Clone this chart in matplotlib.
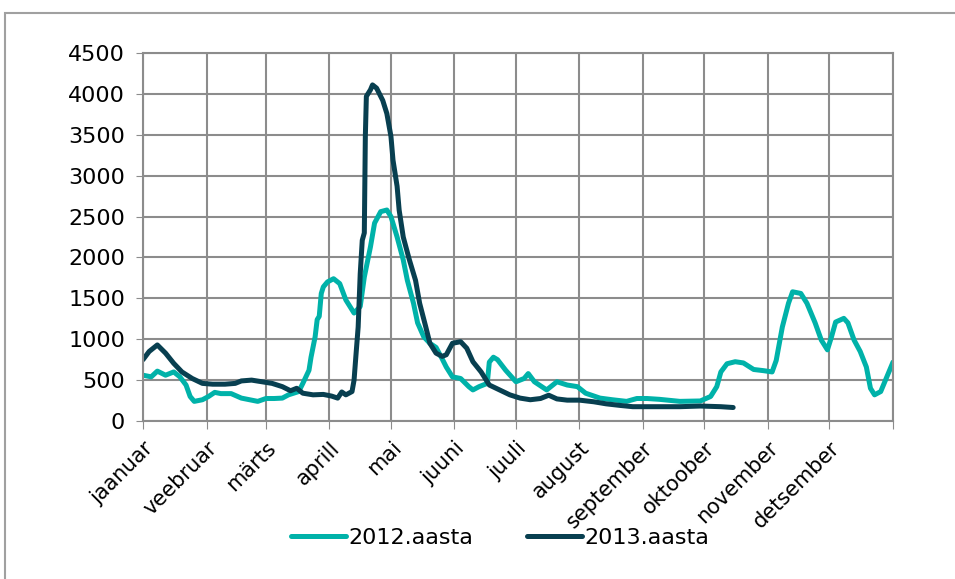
import matplotlib
matplotlib.use('Agg')
import matplotlib.pyplot as plt
from matplotlib.patches import Rectangle

plt.rcParams['font.family'] = ['DejaVu Sans']

# kuude nimed ja nende alguspäevad (liigaasta)
kuud = ['jaanuar', 'veebruar', 'märts', 'aprill', 'mai', 'juuni', 'juuli',
        'august', 'september', 'oktoober', 'november', 'detsember']
kuu_algus = [0, 31, 60, 91, 121, 152, 182, 213, 244, 274, 305, 335]
aasta_lopp = 366

# 2012 - päev aastas ja väärtus
paev_2012 = [0, 4, 7, 11, 15, 18, 21, 23, 25, 29, 32, 35, 38, 43, 48, 52, 56, 60,
             64, 68, 71, 76, 78, 81, 82, 84, 85, 86, 87, 88, 90, 93, 96, 99, 103,
             106, 108, 111, 113, 116, 119, 121, 124, 127, 129, 132, 134, 137, 140,
             143, 146, 148, 151, 155, 159, 161, 164, 168, 169, 171, 173, 177, 182,
             186, 188, 191, 197, 202, 207, 212, 216, 223, 229, 236, 241, 246, 252,
             262, 272, 277, 280, 282, 285, 289, 293, 298, 303, 307, 309, 312, 315,
             317, 321, 324, 328, 331, 334, 336, 338, 342, 344, 347, 350, 353, 355,
             357, 360, 363, 366]
vaartus_2012 = [560, 540, 610, 560, 600, 540, 440, 300, 240, 260, 300, 350, 335,
                335, 280, 260, 240, 275, 275, 280, 320, 360, 460, 620, 780, 1030,
                1240, 1280, 1560, 1640, 1700, 1740, 1680, 1480, 1320, 1400, 1760,
                2130, 2420, 2560, 2580, 2500, 2250, 1970, 1720, 1440, 1200, 1030,
                950, 900, 760, 660, 540, 520, 420, 380, 420, 460, 720, 780, 750,
                620, 480, 520, 580, 480, 380, 480, 440, 420, 340, 280, 260, 240,
                275, 275, 265, 240, 245, 300, 420, 600, 700, 725, 710, 630, 615,
                600, 740, 1150, 1440, 1580, 1560, 1440, 1200, 990, 870, 1030, 1210,
                1255, 1200, 990, 850, 660, 400, 320, 360, 540, 720]

# 2013 - päev aastas ja väärtus
paev_2013 = [0, 3, 7, 11, 15, 19, 24, 29, 34, 40, 45, 48, 53, 58, 63, 68, 72, 75,
             78, 83, 88, 92, 95, 97, 99, 102, 103, 104, 105, 106, 107, 108, 108.5,
             109, 111, 112, 114, 117, 119, 121, 122, 124, 125, 127, 130, 133, 135,
             138, 140, 143, 146, 148, 151, 155, 158, 161, 165, 169, 174, 179, 184,
             189, 194, 198, 202, 207, 213, 220, 226, 233, 239, 252, 262, 272, 282,
             288]
vaartus_2013 = [750, 850, 930, 830, 705, 600, 520, 460, 450, 450, 460, 490, 500,
                480, 460, 420, 370, 400, 340, 320, 325, 305, 280, 355, 320, 360,
                500, 830, 1150, 1800, 2210, 2300, 3480, 3970, 4050, 4110, 4070,
                3920, 3760, 3480, 3190, 2870, 2580, 2250, 1970, 1720, 1440, 1150,
                950, 830, 790, 810, 950, 970, 890, 725, 600, 440, 380, 320, 280,
                260, 275, 315, 270, 255, 255, 235, 210, 190, 175, 175, 175, 183,
                175, 165]

fig = plt.figure(figsize=(9.55, 5.79), dpi=100)
ax = fig.add_axes([143 / 955, 1 - 421 / 579, 750 / 955, 368 / 579])

ax.plot(paev_2012, vaartus_2012, color='#00B2A9', lw=3.6,
        solid_joinstyle='round', solid_capstyle='round', label='2012.aasta')
ax.plot(paev_2013, vaartus_2013, color='#083F50', lw=3.6,
        solid_joinstyle='round', solid_capstyle='round', label='2013.aasta')

ax.set_xlim(0, aasta_lopp)
ax.set_ylim(0, 4500)
ax.set_yticks(range(0, 4501, 500))
ax.set_xticks(kuu_algus + [aasta_lopp])
ax.set_xticklabels(kuud + [''], rotation=45, ha='right', rotation_mode='anchor',
                   fontsize=15)
ax.tick_params(axis='y', labelsize=16, length=5, color='#8c8c8c', pad=8)
ax.tick_params(axis='x', length=6, color='#8c8c8c', pad=6)

ax.grid(True, color='#8c8c8c', lw=1.5)
ax.set_axisbelow(True)
for s in ax.spines.values():
    s.set_color('#8c8c8c')
    s.set_linewidth(1.5)

fig.legend(loc='center', bbox_to_anchor=(500 / 955, 1 - 538 / 579), ncol=2,
           frameon=False, fontsize=16, handlelength=2.5, handletextpad=0.1,
           columnspacing=2.4)

# raam ümber joonise
fig.patches.append(Rectangle((5 / 955, -0.05), 1.1, 1.05 - 13 / 579,
                             transform=fig.transFigure, fill=False,
                             edgecolor='#a0a0a0', lw=1.5))

plt.savefig('out.png', dpi=100)
